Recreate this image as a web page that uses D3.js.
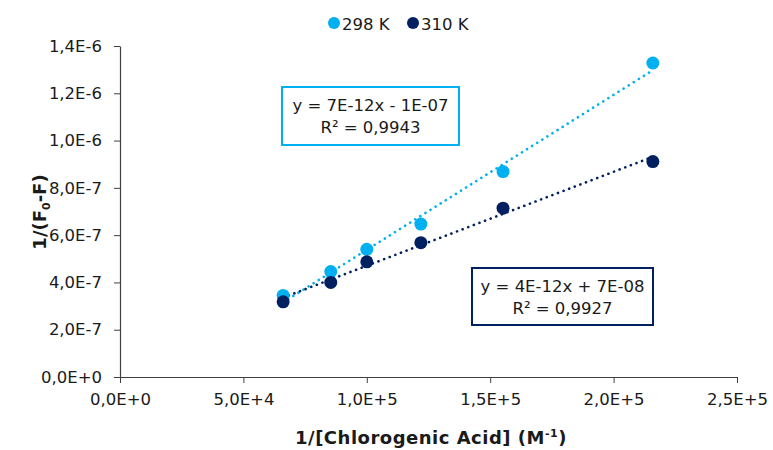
<!DOCTYPE html>
<html><head><meta charset="utf-8">
<script src="https://cdn.jsdelivr.net/npm/d3@7"></script>
<style>body{margin:0;background:#fff}svg{display:block}text{font-family:"DejaVu Sans",Verdana,sans-serif}</style>
</head><body><svg id="c" width="773" height="450"></svg>
<script>
const xValues = [66100, 85400, 100000, 121900, 155200, 215900];
const series298 = [3.45e-7, 4.46e-7, 5.40e-7, 6.47e-7, 8.69e-7, 1.328e-6];
const series310 = [3.18e-7, 4.00e-7, 4.87e-7, 5.68e-7, 7.14e-7, 9.11e-7];
const seriesNames = ["298 K", "310 K"];
const seriesColors = ["#00B0F0", "#002060"];
const equations = [["y = 7E-12x - 1E-07", "R\u00B2 = 0,9943"], ["y = 4E-12x + 7E-08", "R\u00B2 = 0,9927"]];
const xTicks = [0, 5e4, 1e5, 1.5e5, 2e5, 2.5e5];
const xTickLabels = ["0,0E+0", "5,0E+4", "1,0E+5", "1,5E+5", "2,0E+5", "2,5E+5"];
const yTicks = [0, 2e-7, 4e-7, 6e-7, 8e-7, 1e-6, 1.2e-6, 1.4e-6];
const yTickLabels = ["0,0E+0", "2,0E-7", "4,0E-7", "6,0E-7", "8,0E-7", "1,0E-6", "1,2E-6", "1,4E-6"];

const svg = d3.select("#c");
const x = d3.scaleLinear().domain([0, 2.5e5]).range([120, 737]);
const y = d3.scaleLinear().domain([0, 1.4e-6]).range([377, 46]);
const axisColor = "#404040";
const FONT = '"DejaVu Sans",Verdana,sans-serif';
const TXT = "#1a1a1a";

const gx = svg.append("g").attr("transform", "translate(0,377)")
  .call(d3.axisBottom(x).tickValues(xTicks).tickFormat((d, i) => xTickLabels[i]).tickSize(6).tickSizeOuter(0));
gx.attr("font-family", FONT);
gx.select(".domain").attr("stroke", axisColor).attr("stroke-width", 1.2);
gx.selectAll(".tick line").attr("stroke", axisColor);
gx.selectAll(".tick text").attr("font-size", 16.5).attr("fill", TXT).attr("y", 16).attr("dy", "0.71em")
  .attr("font-family", FONT);

const gy = svg.append("g").attr("transform", "translate(120,0)")
  .call(d3.axisLeft(y).tickValues(yTicks).tickFormat((d, i) => yTickLabels[i]).tickSize(6).tickSizeOuter(0));
gy.attr("font-family", FONT);
gy.select(".domain").attr("stroke", axisColor).attr("stroke-width", 1.2);
gy.selectAll(".tick line").attr("stroke", axisColor);
gy.selectAll(".tick text").attr("font-size", 16.5).attr("fill", TXT).attr("x", -18)
  .attr("font-family", FONT);

const allSeries = [series298, series310];
allSeries.forEach((vals, si) => {
  const pts = xValues.map((xv, i) => [xv, vals[i]]);
  const mx = d3.mean(pts, p => p[0]), my = d3.mean(pts, p => p[1]);
  const slope = d3.sum(pts, p => (p[0] - mx) * (p[1] - my)) / d3.sum(pts, p => (p[0] - mx) ** 2);
  const icpt = my - slope * mx;
  const x0 = d3.min(xValues), x1 = d3.max(xValues);
  svg.append("line")
    .attr("x1", x(x0)).attr("y1", y(slope * x0 + icpt))
    .attr("x2", x(x1)).attr("y2", y(slope * x1 + icpt))
    .attr("stroke", seriesColors[si]).attr("stroke-width", 2.6)
    .attr("stroke-dasharray", "0.1 5.9").attr("stroke-linecap", "round");
});
allSeries.forEach((vals, si) => {
  svg.append("g").selectAll("circle").data(vals).join("circle")
    .attr("cx", (d, i) => x(xValues[i])).attr("cy", d => y(d)).attr("r", 6.5)
    .attr("fill", seriesColors[si]);
});

const boxes = [{x: 282, y: 87, w: 177, h: 58}, {x: 472, y: 268, w: 181, h: 57}];
boxes.forEach((b, i) => {
  svg.append("rect").attr("x", b.x).attr("y", b.y).attr("width", b.w).attr("height", b.h)
    .attr("fill", "#fff").attr("stroke", seriesColors[i]).attr("stroke-width", 2);
  equations[i].forEach((t, j) => {
    svg.append("text").attr("x", b.x + b.w / 2).attr("y", b.y + 24 + j * 22)
      .attr("text-anchor", "middle").attr("font-size", 16.5).attr("fill", TXT)
      .attr("font-family", FONT).text(t);
  });
});

const legX = [334, 413];
seriesNames.forEach((s, i) => {
  svg.append("circle").attr("cx", legX[i]).attr("cy", 23).attr("r", 6).attr("fill", seriesColors[i]);
  svg.append("text").attr("x", legX[i] + 8).attr("y", 30).attr("font-size", 16.5).attr("fill", TXT)
    .attr("font-family", FONT).text(s);
});

const xt = svg.append("text").attr("x", 431).attr("y", 444).attr("text-anchor", "middle")
  .attr("font-size", 18).attr("font-weight", "bold").attr("fill", TXT).attr("font-family", FONT)
  .attr("letter-spacing", 0.5);
xt.append("tspan").text("1/[Chlorogenic Acid] (M");
xt.append("tspan").attr("font-size", 11).attr("dy", -7).text("-1");
xt.append("tspan").attr("dy", 7).text(")");

const yt = svg.append("text").attr("transform", "translate(46,212) rotate(-90)").attr("text-anchor", "middle")
  .attr("font-size", 18).attr("font-weight", "bold").attr("fill", TXT).attr("font-family", FONT);
yt.append("tspan").text("1/(F");
yt.append("tspan").attr("font-size", 11).attr("dy", 4).text("0");
yt.append("tspan").attr("dy", -4).text("-F)");
</script></body></html>
